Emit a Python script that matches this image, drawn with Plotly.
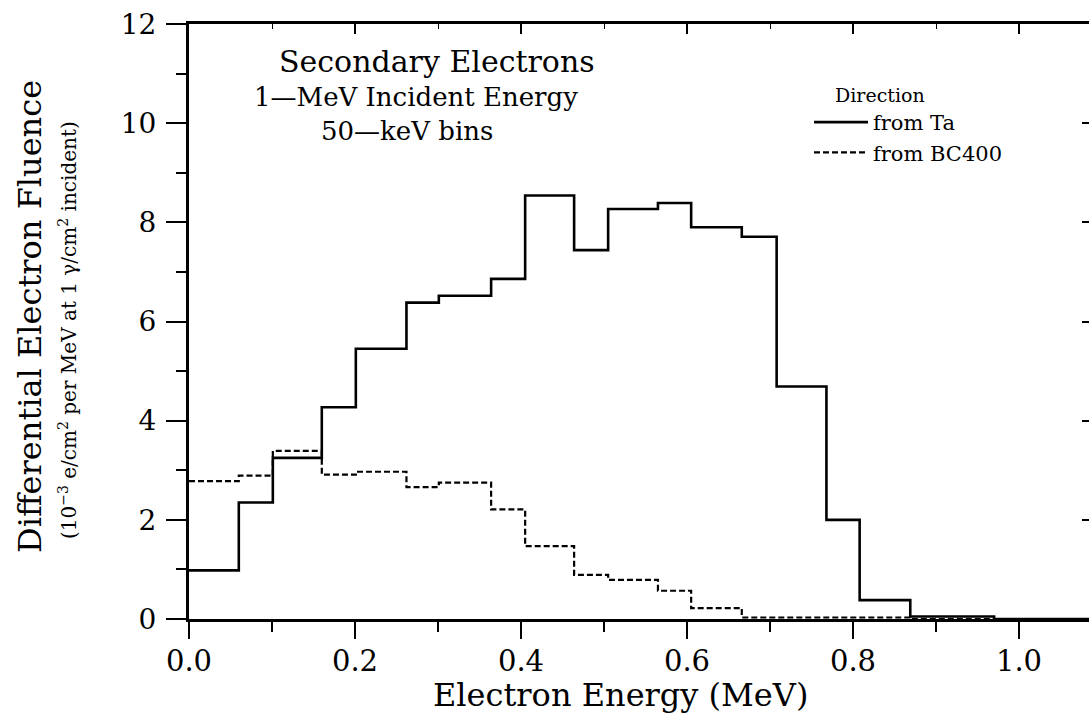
import plotly.graph_objects as go

# Bin edges (MeV) shared by both histograms
bin_edges = [0.000, 0.060, 0.101, 0.160, 0.201, 0.262, 0.301, 0.364, 0.405, 0.464,
             0.505, 0.565, 0.605, 0.666, 0.708, 0.768, 0.808, 0.869, 0.910, 0.970, 1.086]

# Differential electron fluence per bin (10^-3 e/cm^2 per MeV at 1 gamma/cm^2 incident)
from_ta = [0.98, 2.35, 3.25, 4.27, 5.45, 6.38, 6.52, 6.86, 8.54, 7.44,
           8.27, 8.39, 7.90, 7.71, 4.69, 2.00, 0.38, 0.05, 0.05, 0.00]
from_bc400 = [2.78, 2.89, 3.39, 2.91, 2.97, 2.66, 2.75, 2.21, 1.47, 0.89,
              0.79, 0.57, 0.22, 0.03, 0.03, 0.03, 0.03, 0.00, 0.00, 0.00]

x_ticks = [0.0, 0.2, 0.4, 0.6, 0.8, 1.0]
x_tick_text = ["0.0", "0.2", "0.4", "0.6", "0.8", "1.0"]
y_ticks = [0, 2, 4, 6, 8, 10, 12]

FONT = "DejaVu Serif"
W, H = 1089, 721
ML, MR, MT, MB = 189, 0, 24, 102


def px_x(p):
    return (p - ML) / (W - ML - MR)


def px_y(p):
    return (H - MB - p) / (H - MT - MB)


fig = go.Figure()

fig.add_trace(go.Scatter(
    x=bin_edges, y=from_ta + [from_ta[-1]], mode="lines", line_shape="hv",
    line=dict(color="black", width=2.6), name="from Ta"))
fig.add_trace(go.Scatter(
    x=bin_edges, y=from_bc400 + [from_bc400[-1]], mode="lines", line_shape="hv",
    line=dict(color="black", width=2.2, dash="6px,3px"), name="from BC400"))
# empty trace so the mirrored top/right axes are drawn
fig.add_trace(go.Scatter(x=[], y=[], xaxis="x2", yaxis="y2", showlegend=False,
                         hoverinfo="skip"))

xr = [0, (W - ML - MR) / 830.0]

fig.update_layout(
    width=W, height=H,
    margin=dict(l=ML, r=MR, t=MT, b=MB),
    paper_bgcolor="white", plot_bgcolor="white",
    font=dict(family=FONT, color="black"),
    showlegend=True,
    legend=dict(
        x=px_x(809), y=px_y(102), xanchor="left", yanchor="top",
        bgcolor="rgba(0,0,0,0)", borderwidth=0,
        font=dict(family=FONT, size=21, color="black"),
        tracegroupgap=0, itemwidth=54,
    ),
    xaxis=dict(
        range=xr, tickvals=x_ticks, ticktext=x_tick_text,
        ticks="outside", ticklen=17, tickwidth=2, tickcolor="black",
        minor=dict(dtick=0.1, tick0=0, ticks="outside", ticklen=10, tickwidth=1.5,
                   tickcolor="black"),
        showline=True, linewidth=3, linecolor="black",
        showgrid=False, zeroline=False,
        tickfont=dict(family=FONT, size=29, color="black"),
        ticklabelstandoff=-3,
    ),
    yaxis=dict(
        range=[0, 12], tickvals=y_ticks,
        ticks="outside", ticklen=20, tickwidth=2, tickcolor="black",
        minor=dict(dtick=1, tick0=0, ticks="outside", ticklen=10, tickwidth=1.5,
                   tickcolor="black"),
        showline=True, linewidth=3, linecolor="black",
        showgrid=False, zeroline=False,
        tickfont=dict(family=FONT, size=28, color="black"),
        ticklabelstandoff=4,
    ),
    xaxis2=dict(
        overlaying="x", side="top", anchor="y", range=xr, tickvals=x_ticks,
        showticklabels=False, ticks="inside", ticklen=10, tickwidth=1.5,
        tickcolor="black",
        minor=dict(dtick=0.1, tick0=0, ticks="inside", ticklen=5, tickwidth=1.2,
                   tickcolor="black"),
        showline=True, linewidth=2.5, linecolor="black",
        showgrid=False, zeroline=False,
    ),
    yaxis2=dict(
        overlaying="y", side="right", anchor="x", range=[0, 12],
        tickvals=y_ticks, showticklabels=False, ticks="inside", ticklen=7,
        tickwidth=1.5, tickcolor="black",
        showline=True, linewidth=2.5, linecolor="black",
        showgrid=False, zeroline=False,
    ),
)

annotations = [
    dict(text="Electron Energy (MeV)", x=px_x(620), y=px_y(695), size=32),
    dict(text="Differential Electron Fluence", x=px_x(30), y=px_y(317), size=32,
         angle=-90),
    dict(text="(10<sup>−3</sup> e/cm<sup>2</sup> per MeV at 1 γ/cm<sup>2</sup> incident)",
         x=px_x(68), y=px_y(330), size=20, angle=-90),
    dict(text="Secondary Electrons", x=px_x(437), y=px_y(61), size=30),
    dict(text="1—MeV Incident Energy", x=px_x(416), y=px_y(97), size=26),
    dict(text="50—keV bins", x=px_x(407), y=px_y(131), size=26),
    dict(text="Direction", x=px_x(880), y=px_y(95), size=19),
]
for a in annotations:
    fig.add_annotation(
        text=a["text"], x=a["x"], y=a["y"], xref="paper", yref="paper",
        xanchor="center", yanchor="middle", showarrow=False,
        textangle=a.get("angle", 0),
        font=dict(family=FONT, size=a["size"], color="black"))

fig.write_html("out.html")
